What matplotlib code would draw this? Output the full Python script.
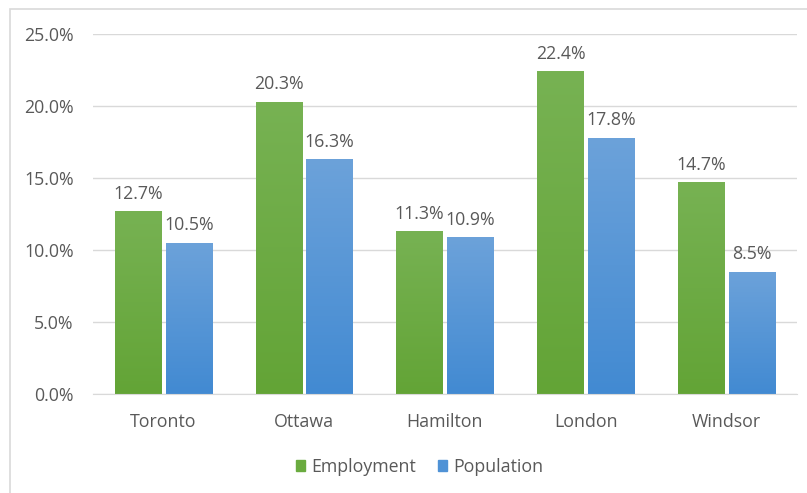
"""Employment vs population share by city, grouped bar chart."""

from matplotlib import pyplot as plt
from matplotlib.patches import Rectangle
import numpy as np

cities = ["Toronto", "Ottawa", "Hamilton", "London", "Windsor"]
employment = [12.7, 20.3, 11.3, 22.4, 14.7]
population = [10.5, 16.3, 10.9, 17.8, 8.5]
yticks = [0, 5, 10, 15, 20, 25]

plt.rcParams["font.family"] = ["Open Sans", "DejaVu Sans"]
text_color = "#595959"
fsize = 12.8

fig = plt.figure(figsize=(8.07, 4.93), dpi=100)
ax = fig.add_axes([93 / 807, 1 - 394 / 493, 704 / 807, 360 / 493])

x = np.arange(len(cities))
width = 0.33
gap = 0.03


def gradient_bars(xpos, values, top_color, bottom_color, label):
    bars = ax.bar(xpos, values, width, color="none", edgecolor="none", label=label)
    grad = np.linspace(0, 1, 256).reshape(-1, 1)
    top = np.array(plt.matplotlib.colors.to_rgb(top_color))
    bot = np.array(plt.matplotlib.colors.to_rgb(bottom_color))
    img = (top * (1 - grad) + bot * grad).reshape(256, 1, 3)
    for bar in bars:
        x0, y0 = bar.get_x(), bar.get_y()
        im = ax.imshow(img, extent=[x0, x0 + bar.get_width(), y0, y0 + bar.get_height()],
                       aspect="auto", zorder=2)
        im.set_clip_path(bar)
    ax.bar_label(bars, labels=["{:.1f}%".format(v) for v in values], padding=6,
                 color=text_color, fontsize=fsize)
    return bars


gradient_bars(x - width / 2 - gap / 2, employment, "#77b253", "#63a436", "Employment")
gradient_bars(x + width / 2 + gap / 2, population, "#6ca2da", "#428ad2", "Population")

ax.set_xlim(-0.5, len(cities) - 0.5)
ax.set_ylim(0, 25)
ax.set_yticks(yticks)
ax.set_yticklabels(["{:.1f}%".format(t) for t in yticks])
ax.set_xticks(x)
ax.set_xticklabels(cities)
ax.tick_params(length=0, colors=text_color, labelsize=fsize)
ax.tick_params(axis="x", pad=14)
ax.tick_params(axis="y", pad=14)
ax.yaxis.grid(True, color="#d9d9d9", linewidth=1)
ax.set_axisbelow(True)
for side in ["top", "right", "left"]:
    ax.spines[side].set_visible(False)
ax.spines["bottom"].set_color("#d9d9d9")

handles = [Rectangle((0, 0), 1, 1, color="#6aab3f"), Rectangle((0, 0), 1, 1, color="#4f92d6")]
fig.legend(handles, ["Employment", "Population"], loc="center", bbox_to_anchor=(0.52, 0.053),
           ncol=2, frameon=False, handlelength=0.55, handleheight=0.55, handletextpad=0.35,
           columnspacing=1.2, labelcolor=text_color, fontsize=fsize)

fig.patches.append(Rectangle((10 / 807, -0.1), 1.2, 1.1 - 9 / 493, transform=fig.transFigure,
                             fill=False, edgecolor="#d9d9d9", linewidth=1.2))

fig.savefig("out.png", dpi=100)
